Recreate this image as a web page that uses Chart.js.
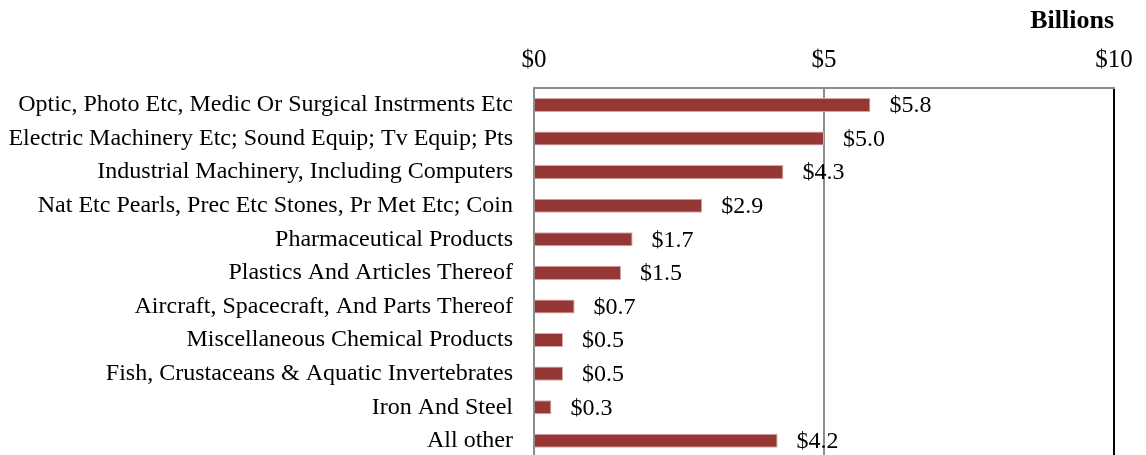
<!DOCTYPE html>
<html>
<head>
<meta charset="utf-8">
<script src="https://cdn.jsdelivr.net/npm/chart.js@4.4.1/dist/chart.umd.min.js"></script>
<style>
    html, body { margin: 0; padding: 0; background: #ffffff; overflow: hidden; }
    #wrap { width: 1146px; height: 455px; overflow: hidden; }
    canvas { display: block; }
</style>
</head>
<body>
<!-- canvas is taller than the frame so the plot runs off the bottom edge -->
<div id="wrap"><canvas id="exportsChart" width="1146" height="493"></canvas></div>
<script>
// Export categories and values (billions of dollars)
var categories = [
    'Optic, Photo Etc, Medic Or Surgical Instrments Etc',
    'Electric Machinery Etc; Sound Equip; Tv Equip; Pts',
    'Industrial Machinery, Including Computers',
    'Nat Etc Pearls, Prec Etc Stones, Pr Met Etc; Coin',
    'Pharmaceutical Products',
    'Plastics And Articles Thereof',
    'Aircraft, Spacecraft, And Parts Thereof',
    'Miscellaneous Chemical Products',
    'Fish, Crustaceans & Aquatic Invertebrates',
    'Iron And Steel',
    'All other'
];
var values = [5.8, 5.0, 4.3, 2.9, 1.7, 1.5, 0.7, 0.5, 0.5, 0.3, 4.2];
var tickValues = [0, 5, 10];

var serif = '"Liberation Serif", "Times New Roman", serif';

// Writes "$x.x" to the right of each bar
var valueLabels = {
    id: 'valueLabels',
    afterDatasetsDraw: function(chart) {
        var ctx = chart.ctx;
        var meta = chart.getDatasetMeta(0);
        ctx.save();
        ctx.font = '24px ' + serif;
        ctx.fillStyle = '#000000';
        ctx.textAlign = 'left';
        ctx.textBaseline = 'middle';
        for (var i = 0; i < meta.data.length; i++) {
            var bar = meta.data[i];
            ctx.fillText('$' + values[i].toFixed(1), bar.x + 19, bar.y + 1);
        }
        ctx.restore();
    }
};

const ctx = document.getElementById('exportsChart').getContext('2d');
const mainChart = new Chart(ctx, {
    type: 'bar',
    data: {
        labels: categories,
        datasets: [{
            data: values,
            backgroundColor: '#953735',
            borderColor: '#d8a6a5',
            borderWidth: 1,
            barPercentage: 0.42,
            categoryPercentage: 1.0
        }]
    },
    options: {
        indexAxis: 'y',
        responsive: false,
        animation: false,
        layout: { padding: { top: 6, right: 32, bottom: 3.5, left: 0 } },
        plugins: {
            legend: { display: false },
            tooltip: { enabled: false },
            title: {
                display: true,
                text: 'Billions',
                align: 'end',
                color: '#000000',
                font: { family: serif, size: 26, weight: 'bold' },
                padding: { top: 0, bottom: 4 }
            }
        },
        scales: {
            x: {
                position: 'top',
                min: 0,
                max: 10,
                afterBuildTicks: function(scale) {
                    scale.ticks = tickValues.map(function(v) { return { value: v }; });
                },
                afterFit: function(scale) { scale.height = 47; },
                ticks: {
                    color: '#000000',
                    font: { family: serif, size: 25 },
                    padding: 13,
                    callback: function(v) { return '$' + v; }
                },
                grid: {
                    drawTicks: false,
                    lineWidth: 2,
                    color: function(c) {
                        return c.tick && c.tick.value === 10 ? '#000000' : '#8c8c8c';
                    }
                },
                border: { display: true, color: '#8c8c8c', width: 2 }
            },
            y: {
                afterFit: function(scale) { scale.width = 534; },
                ticks: {
                    color: '#000000',
                    font: { family: serif, size: 24 },
                    padding: 21,
                    autoSkip: false
                },
                grid: { display: false, drawTicks: false },
                border: { display: true, color: '#8c8c8c', width: 2 }
            }
        }
    },
    plugins: [valueLabels]
});
</script>
</body>
</html>
